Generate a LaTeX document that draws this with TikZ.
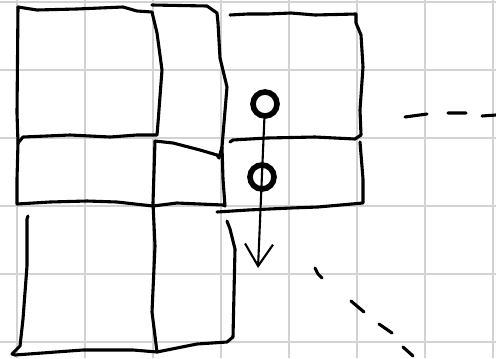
\documentclass[tikz,border=0pt]{standalone}
\usetikzlibrary{arrows.meta}
\definecolor{gridgray}{RGB}{210,210,210}

\begin{document}
\begin{tikzpicture}[
  x=0.5mm, y=-0.5mm,
  gridline/.style={gridgray, line width=2.6pt},
  ink/.style={black, line width=4.4pt, line cap=round, line join=round},
  pen/.style={black, line width=3pt, line cap=round},
  dot/.style={circle, draw=black, line width=8pt, minimum size=12mm, inner sep=0pt}
]
  \useasboundingbox (0,0) rectangle (496,358);
  \fill[white] (0,0) rectangle (496,358);

  % squared paper
  \foreach \x in {17,85,...,493}
    \draw[gridline] (\x,0) -- (\x,358);
  \foreach \y in {2,70,...,342}
    \draw[gridline] (0,\y) -- (496,\y);

  % left column and middle column
  \draw[ink] (18,7) -- (37,10) -- (77,9) -- (123,7) -- (137,11) -- (152,12) -- (157,33) -- (162,70) -- (158,123)
    -- (157,135) -- (137,135) -- (110,137) -- (70,135) -- (23,137) -- (18,143);
  \draw[ink] (18,7) -- (17,113) -- (18,143) -- (17,179) -- (17,204) -- (50,202) -- (87,201) -- (117,202) -- (153,206)
    -- (177,203) -- (223,205) -- (225,206) -- (223,179) -- (222,147) -- (227,87) -- (220,58) -- (218,23) -- (217,13)
    -- (207,6) -- (152,5);
  \draw[ink] (155,141) -- (173,143) -- (200,150) -- (217,155) -- (219,158) -- (222,147);
  \draw[ink] (155,141) -- (153,203) -- (155,246) -- (152,312) -- (157,352);
  \draw[ink] (28,216) -- (27,219) -- (27,266) -- (23,319) -- (20,346) -- (12,354) -- (15,355) -- (83,350) -- (133,350)
    -- (157,352) -- (197,344) -- (227,342) -- (233,337) -- (235,249) -- (230,229) -- (227,221);

  % right column
  \draw[ink] (230,15) -- (248,14) -- (268,14) -- (291,13) -- (315,15) -- (356,14) -- (356,23) -- (361,35) -- (363,67)
    -- (360,110) -- (361,135);
  \draw[ink] (230,142) -- (233,140) -- (267,138) -- (315,137) -- (355,139) -- (361,135);
  \draw[ink] (217,212) -- (248,210) -- (291,208) -- (318,207) -- (363,203) -- (363,179) -- (360,142);

  % dashed strokes
  \draw[ink] (405,117) -- (427,114) (448,113) -- (466,113) (482,116) -- (496,115);
  \draw[ink] (315,268) -- (318,274) -- (322,278) (351,301) -- (364,312) (379,324) -- (392,333) (403,347) -- (413,356);

  % the two dots and the arrow
  \node[dot] (topdot) at (265,104) {};
  \node[dot] (middot) at (262,177) {};
  \coordinate (arrowend) at (258,268);
  \draw[pen, -{Straight Barb[length=11mm, width=14mm]}] (topdot) -- (arrowend);
\end{tikzpicture}
\end{document}
